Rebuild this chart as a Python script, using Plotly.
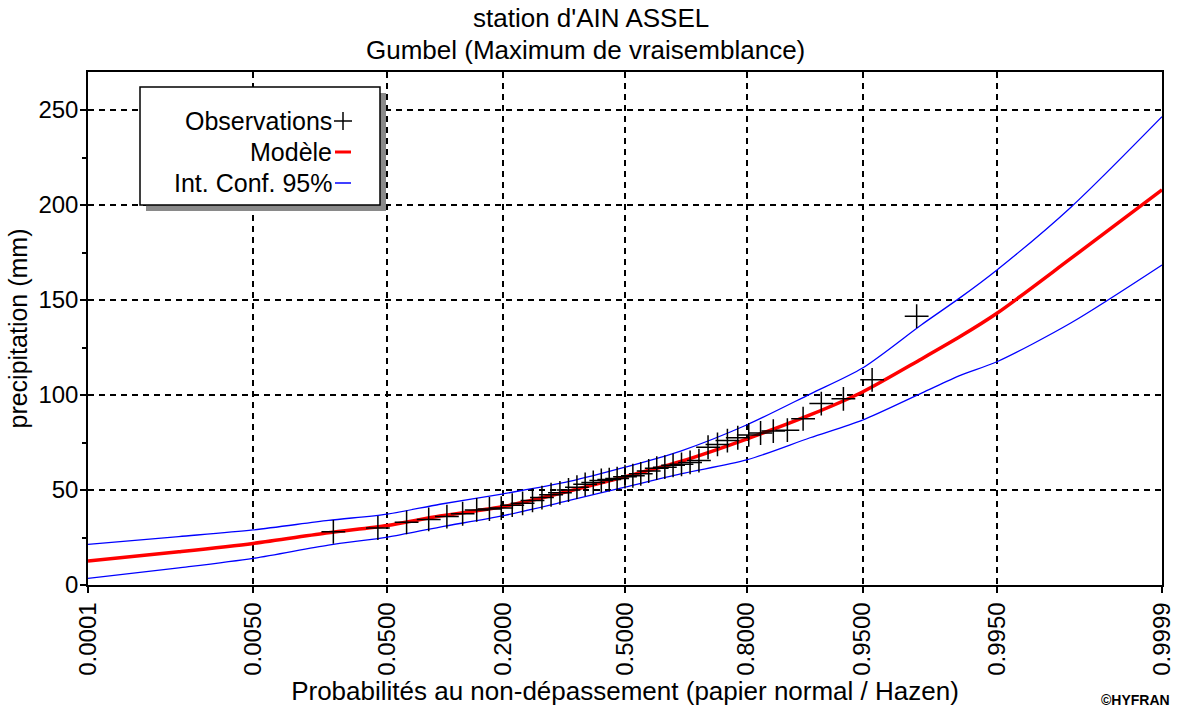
import math
import plotly.graph_objects as go

# ---------------- data ----------------
tick_probs = [0.0001, 0.005, 0.05, 0.2, 0.5, 0.8, 0.95, 0.995, 0.9999]
tick_labels = ["0.0001", "0.0050", "0.0500", "0.2000", "0.5000", "0.8000", "0.9500", "0.9950", "0.9999"]

obs_prob = [0.0217, 0.0435, 0.0652, 0.0870, 0.1087, 0.1304, 0.1522, 0.1739, 0.1957, 0.2174,
            0.2391, 0.2609, 0.2826, 0.3043, 0.3261, 0.3478, 0.3696, 0.3913, 0.4130, 0.4348,
            0.4565, 0.4783, 0.5000, 0.5217, 0.5435, 0.5652, 0.5870, 0.6087, 0.6304, 0.6522,
            0.6739, 0.6957, 0.7174, 0.7391, 0.7609, 0.7826, 0.8043, 0.8261, 0.8478, 0.8696,
            0.8913, 0.9130, 0.9348, 0.9565, 0.9783]
obs_val = [28.0, 30.0, 33.0, 34.5, 36.0, 37.5, 39.5, 40.0, 40.5, 42.0,
           43.0, 44.5, 46.0, 47.5, 48.5, 50.0, 51.5, 53.0, 54.0, 55.0,
           55.5, 56.0, 57.0, 57.5, 58.5, 60.0, 61.5, 62.0, 63.0, 63.5,
           64.5, 65.5, 72.5, 74.0, 76.0, 77.5, 79.0, 80.0, 81.0, 81.5,
           87.5, 95.5, 98.0, 108.0, 141.5]

curve_prob = [0.0001, 0.001, 0.005, 0.02, 0.05, 0.1, 0.2, 0.35, 0.5, 0.65,
              0.8, 0.9, 0.95, 0.98, 0.99, 0.995, 0.999, 0.9999]
model_val = [12.6, 17.5, 21.9, 27.5, 31.3, 36.3, 41.3, 49.5, 57.0, 65.0,
             76.8, 89.5, 101.6, 119.0, 131.0, 143.0, 172.0, 208.0]
upper_val = [21.4, 25.5, 29.0, 34.0, 37.3, 42.5, 48.0, 54.5, 62.0, 70.5,
             84.2, 100.5, 114.2, 137.0, 151.5, 165.8, 199.0, 246.5]
lower_val = [3.5, 9.0, 14.0, 21.0, 25.2, 30.5, 36.5, 44.5, 51.5, 58.5,
             65.8, 77.5, 86.8, 101.0, 110.5, 117.5, 138.0, 168.4]


# normal probability paper scale
def norm_ppf(p):
    lo, hi = -10.0, 10.0
    for _ in range(200):
        mid = 0.5 * (lo + hi)
        if 0.5 * (1 + math.erf(mid / math.sqrt(2))) < p:
            lo = mid
        else:
            hi = mid
    return 0.5 * (lo + hi)


def zs(ps):
    return [norm_ppf(p) for p in ps]


FONT = "Liberation Sans, Arial, sans-serif"

fig = go.Figure()
fig.add_trace(go.Scatter(x=zs(curve_prob), y=upper_val, mode="lines",
                         line=dict(color="#0000ff", width=1.3, shape="spline", smoothing=0.8),
                         showlegend=False, hoverinfo="skip"))
fig.add_trace(go.Scatter(x=zs(curve_prob), y=lower_val, mode="lines",
                         line=dict(color="#0000ff", width=1.3, shape="spline", smoothing=0.8),
                         showlegend=False, hoverinfo="skip"))
fig.add_trace(go.Scatter(x=zs(curve_prob), y=model_val, mode="lines",
                         line=dict(color="#ff0000", width=3.5, shape="spline", smoothing=0.8),
                         showlegend=False))
fig.add_trace(go.Scatter(x=zs(obs_prob), y=obs_val, mode="markers",
                         marker=dict(symbol="cross-thin", size=17,
                                     line=dict(color="black", width=1.5)),
                         showlegend=False))

zmin, zmax = norm_ppf(tick_probs[0]), norm_ppf(tick_probs[-1])

fig.update_xaxes(range=[zmin, zmax], tickvals=zs(tick_probs), ticktext=tick_labels,
                 tickangle=-90, tickfont=dict(family=FONT, size=24, color="black"),
                 showgrid=True, gridcolor="black", griddash="6px,5px", gridwidth=1.5,
                 showline=True, linecolor="black", linewidth=1.5, mirror=True,
                 ticks="outside", ticklen=6, tickcolor="black", tickwidth=1.5,
                 zeroline=False, automargin=False,
                 title=dict(text="Probabilités au non-dépassement (papier normal / Hazen)",
                            font=dict(family=FONT, size=26, color="black"), standoff=2))
fig.update_yaxes(range=[0, 270], tickvals=[0, 50, 100, 150, 200, 250],
                 tickfont=dict(family=FONT, size=24, color="black"),
                 ticklabelstandoff=-3,
                 showgrid=True, gridcolor="black", griddash="6px,5px", gridwidth=1.5,
                 showline=True, linecolor="black", linewidth=1.5, mirror=True,
                 ticks="outside", ticklen=6, tickcolor="black", tickwidth=1.5,
                 minor=dict(tickvals=[25, 75, 125, 175, 225], ticks="outside", ticklen=4,
                            tickcolor="black", tickwidth=1.5, showgrid=False),
                 zeroline=False, automargin=False,
                 title=dict(text="precipitation (mm)",
                            font=dict(family=FONT, size=25, color="black"), standoff=4))

L, R, T, B = 88, 17, 72, 125
PW, PH = 1179 - L - R, 710 - T - B


def px(x):
    return (x - L) / PW


def py(y):
    return (710 - B - y) / PH


shapes = []
# legend shadow + box
shapes.append(dict(type="rect", xref="paper", yref="paper", x0=px(146), x1=px(386),
                   y0=py(211), y1=py(93), fillcolor="#8a8a8a", line=dict(width=0), layer="above"))
shapes.append(dict(type="rect", xref="paper", yref="paper", x0=px(140), x1=px(380),
                   y0=py(205), y1=py(87), fillcolor="white",
                   line=dict(color="black", width=1.5), layer="above"))
# legend symbols
shapes.append(dict(type="line", xref="paper", yref="paper", x0=px(334), x1=px(352),
                   y0=py(121), y1=py(121), line=dict(color="black", width=1.5), layer="above"))
shapes.append(dict(type="line", xref="paper", yref="paper", x0=px(343), x1=px(343),
                   y0=py(112), y1=py(130), line=dict(color="black", width=1.5), layer="above"))
shapes.append(dict(type="line", xref="paper", yref="paper", x0=px(335), x1=px(351),
                   y0=py(152), y1=py(152), line=dict(color="#ff0000", width=3), layer="above"))
shapes.append(dict(type="line", xref="paper", yref="paper", x0=px(335), x1=px(351),
                   y0=py(183), y1=py(183), line=dict(color="#0000ff", width=1.5), layer="above"))

annotations = []
for txt, yy in [("Observations", 121), ("Modèle", 152), ("Int. Conf. 95%", 183)]:
    annotations.append(dict(text=txt, xref="paper", yref="paper", x=px(334), y=py(yy),
                            xanchor="right", yanchor="middle", showarrow=False,
                            font=dict(family=FONT, size=25, color="black")))
annotations.append(dict(text="station d'AIN ASSEL", xref="paper", yref="paper",
                        x=px(591), y=py(18), xanchor="center", yanchor="middle", showarrow=False,
                        font=dict(family=FONT, size=26, color="black")))
annotations.append(dict(text="Gumbel (Maximum de vraisemblance)", xref="paper", yref="paper",
                        x=px(585), y=py(50), xanchor="center", yanchor="middle", showarrow=False,
                        font=dict(family=FONT, size=26, color="black")))
annotations.append(dict(text="<b>©HYFRAN</b>", xref="paper", yref="paper",
                        x=px(1172), y=py(700), xanchor="right", yanchor="middle", showarrow=False,
                        font=dict(family=FONT, size=14, color="black")))

fig.update_layout(width=1179, height=710, margin=dict(l=L, r=R, t=T, b=B),
                  paper_bgcolor="white", plot_bgcolor="white",
                  shapes=shapes, annotations=annotations, showlegend=False)

fig.write_html("out.html", config={"displayModeBar": False},
               post_script="document.body.style.margin='0';document.body.style.padding='0';"
                           "document.body.style.overflow='hidden';")
